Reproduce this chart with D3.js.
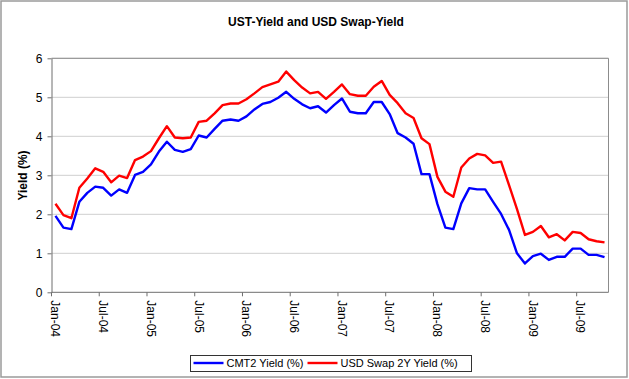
<!DOCTYPE html>
<html>
<head>
<meta charset="utf-8">
<script src="https://cdn.jsdelivr.net/npm/d3@7"></script>
<style>
  html, body { margin: 0; padding: 0; background: #fff; }
  svg { display: block; font-family: "Liberation Sans", Arial, sans-serif; }
</style>
</head>
<body>
<svg id="chart" width="629" height="379"></svg>
<script>
// ---- data ----
const title = "UST-Yield and USD Swap-Yield";
const yAxisTitle = "Yield (%)";
const months = d3.timeMonth.range(new Date(2004, 0, 1), new Date(2009, 10, 1)); // Jan-04 .. Oct-09
const categories = months.map(d3.timeFormat("%b-%y"));
const cmt2 = [1.96,1.66,1.62,2.32,2.55,2.71,2.68,2.48,2.64,2.55,3.01,3.09,3.28,3.61,3.86,3.65,3.60,3.67,4.02,3.97,
              4.19,4.40,4.43,4.40,4.51,4.69,4.83,4.88,4.99,5.14,4.96,4.82,4.72,4.77,4.61,4.80,4.97,4.63,4.59,4.59,
              4.88,4.88,4.57,4.08,3.97,3.81,3.03,3.03,2.26,1.66,1.62,2.28,2.67,2.64,2.64,2.32,2.01,1.60,1.00,0.74,
              0.93,0.99,0.83,0.91,0.91,1.12,1.12,0.96,0.96,0.90];
const swap2y = [2.27,1.98,1.90,2.68,2.92,3.18,3.09,2.82,2.99,2.93,3.39,3.48,3.62,3.95,4.26,3.97,3.95,3.97,4.37,4.40,
                4.59,4.80,4.84,4.84,4.95,5.10,5.26,5.33,5.40,5.66,5.44,5.25,5.10,5.14,4.96,5.14,5.33,5.08,5.04,5.04,
                5.27,5.42,5.06,4.85,4.59,4.47,3.95,3.80,2.96,2.58,2.45,3.20,3.43,3.55,3.51,3.32,3.35,2.75,2.13,1.47,
                1.55,1.70,1.41,1.49,1.33,1.55,1.52,1.36,1.31,1.28];
const xTickLabels = ["Jan-04","Jul-04","Jan-05","Jul-05","Jan-06","Jul-06","Jan-07","Jul-07","Jan-08","Jul-08","Jan-09","Jul-09"];
const yTicks = [0,1,2,3,4,5,6];
const seriesNames = ["CMT2 Yield (%)", "USD Swap 2Y Yield (%)"];
const seriesColors = ["#0000ff", "#ff0000"];

// ---- layout ----
const svg = d3.select("#chart");
const plot = { left: 51.5, right: 608.5, top: 58.3, bottom: 292.3 };

// outer border
svg.append("rect").attr("x", 1).attr("y", 1).attr("width", 626).attr("height", 376)
  .attr("fill", "#fff").attr("stroke", "#9a9a9a").attr("stroke-width", 1.5);

const x = d3.scaleBand().domain(categories).range([plot.left, plot.right]).paddingInner(0).paddingOuter(0);
const y = d3.scaleLinear().domain([0, 6]).range([plot.bottom, plot.top]);
const cx = c => x(c) + x.bandwidth() / 2;

// gridlines
svg.append("g").selectAll("line").data(yTicks.filter(t => t > 0)).join("line")
  .attr("x1", plot.left).attr("x2", plot.right)
  .attr("y1", d => y(d)).attr("y2", d => y(d))
  .attr("stroke", "#cfcfcf").attr("stroke-width", 1);

// plot frame (top/right)
svg.append("path")
  .attr("d", `M${plot.left},${plot.top}H${plot.right}V${plot.bottom}`)
  .attr("fill", "none").attr("stroke", "#8c8c8c").attr("stroke-width", 1);

// y axis
const yAxis = d3.axisLeft(y).tickValues(yTicks).tickFormat(d3.format("d"))
  .tickSize(4).tickSizeOuter(0).tickPadding(5);
const gy = svg.append("g").attr("transform", `translate(${plot.left},0)`).call(yAxis);
gy.select(".domain").attr("stroke", "#6e6e6e");
gy.selectAll(".tick line").attr("stroke", "#6e6e6e");
gy.selectAll(".tick text").attr("font-size", 12).attr("fill", "#000")
  .attr("font-family", "'Liberation Sans', Arial, sans-serif");

// x axis: labels centred on categories, tick marks at category boundaries
const gx = svg.append("g").attr("transform", `translate(0,${plot.bottom})`);
gx.append("line").attr("x1", plot.left).attr("x2", plot.right).attr("y1", 0).attr("y2", 0)
  .attr("stroke", "#6e6e6e");
gx.selectAll("line.tk").data(xTickLabels).join("line").attr("class", "tk")
  .attr("x1", d => x(d)).attr("x2", d => x(d)).attr("y1", 0).attr("y2", 4)
  .attr("stroke", "#6e6e6e");
gx.selectAll("text").data(xTickLabels).join("text")
  .attr("transform", d => `translate(${cx(d)},8) rotate(90)`)
  .attr("text-anchor", "start").attr("dy", "0.35em")
  .attr("font-size", 12).attr("fill", "#000")
  .text(d => d);

// lines
const line = d3.line().x((d, i) => cx(categories[i])).y(d => y(d));
[cmt2, swap2y].forEach((s, k) => {
  svg.append("path").datum(s)
    .attr("d", line).attr("fill", "none")
    .attr("stroke", seriesColors[k]).attr("stroke-width", 2.4)
    .attr("stroke-linejoin", "round");
});

// title
svg.append("text").attr("x", 316).attr("y", 26).attr("text-anchor", "middle")
  .attr("font-size", 12).attr("font-weight", "bold").text(title);

// y axis title
svg.append("text").attr("transform", "translate(27,175.5) rotate(-90)")
  .attr("text-anchor", "middle").attr("font-size", 12).attr("font-weight", "bold")
  .text(yAxisTitle);

// legend
const lg = svg.append("g");
lg.append("rect").attr("x", 190.5).attr("y", 355.5).attr("width", 281).attr("height", 16)
  .attr("fill", "#fff").attr("stroke", "#333").attr("stroke-width", 1);
const legendItems = [
  { x1: 193.5, x2: 223.5, tx: 226.5 },
  { x1: 307.5, x2: 337.5, tx: 340.5 }
];
legendItems.forEach((it, k) => {
  lg.append("line").attr("x1", it.x1).attr("x2", it.x2).attr("y1", 363).attr("y2", 363)
    .attr("stroke", seriesColors[k]).attr("stroke-width", 2.4);
  lg.append("text").attr("x", it.tx).attr("y", 367).attr("font-size", 11)
    .attr("fill", "#000").text(seriesNames[k]);
});
</script>
</body>
</html>
